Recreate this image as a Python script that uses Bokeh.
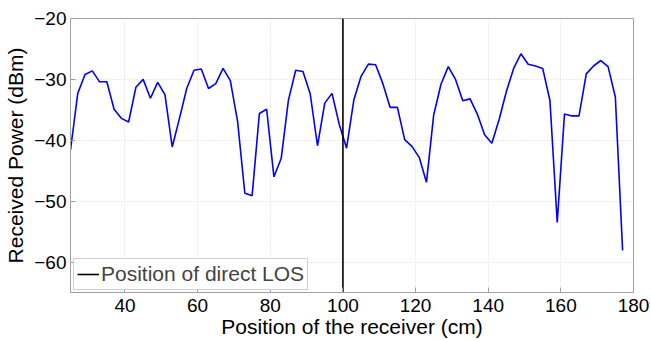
from bokeh.plotting import figure
from bokeh.models import Range1d, FixedTicker, Legend, LegendItem
from bokeh.embed import file_html
from bokeh.resources import INLINE

positions = list(range(25, 178, 2))
power = [-41.6, -32.3, -29.2, -28.6, -30.4, -30.4, -34.9, -36.4, -37.0, -31.3,
         -30.0, -33.1, -30.5, -32.5, -41.1, -36.4, -31.5, -28.5, -28.3, -31.5,
         -30.7, -28.2, -30.2, -36.9, -48.7, -49.1, -35.6, -34.9, -46.0, -43.0,
         -33.4, -28.5, -28.7, -32.4, -40.9, -33.9, -32.3, -37.4, -41.3, -33.4,
         -29.5, -27.5, -27.6, -30.7, -34.6, -34.6, -39.9, -41.0, -42.8, -46.9,
         -35.8, -30.8, -27.9, -30.0, -33.5, -33.2, -35.7, -39.1, -40.5, -36.6,
         -32.0, -28.2, -25.8, -27.5, -27.8, -28.2, -33.5, -53.5, -35.7, -36.0,
         -36.0, -29.1, -27.8, -26.9, -27.9, -32.9, -58.1]
los_position = 100
x_ticks = [40, 60, 80, 100, 120, 140, 160, 180]
y_ticks = [-60, -50, -40, -30, -20]
x_limits = (25, 180)
y_limits = (-65, -20)

FONT = "Liberation Sans"

p = figure(width=651, height=340, output_backend="svg", toolbar_location=None,
           x_range=Range1d(*x_limits), y_range=Range1d(*y_limits),
           min_border_left=70, min_border_right=18, min_border_top=18,
           min_border_bottom=48)

p.line(positions, power, line_color="#0000ff", line_width=1.6)
los = p.line([los_position, los_position], [y_limits[0], y_limits[1]],
             line_color="black", line_width=1.6)

p.xaxis.ticker = FixedTicker(ticks=x_ticks)
p.yaxis.ticker = FixedTicker(ticks=y_ticks)
p.xaxis.axis_label = "Position of the receiver (cm)"
p.yaxis.axis_label = "Received Power (dBm)"

for ax in (p.xaxis, p.yaxis):
    ax.axis_label_text_font = FONT
    ax.axis_label_text_font_style = "normal"
    ax.axis_label_text_font_size = "21px"
    ax.axis_label_text_color = "black"
    ax.major_label_text_font = FONT
    ax.major_label_text_font_size = "19px"
    ax.major_label_text_color = "black"
    ax.axis_line_color = "#a0a0a0"
    ax.major_tick_line_color = "#a0a0a0"
    ax.major_tick_in = 5
    ax.major_tick_out = 0
    ax.minor_tick_line_color = None

p.xaxis.major_label_standoff = 6
p.xaxis.axis_label_standoff = 0
p.yaxis.major_label_standoff = 4
p.yaxis.axis_label_standoff = 4

p.xgrid.ticker = FixedTicker(ticks=x_ticks)
p.ygrid.ticker = FixedTicker(ticks=y_ticks)
for g in (p.xgrid, p.ygrid):
    g.grid_line_color = "#d8d8d8"
    g.grid_line_dash = "1 2"
    g.grid_line_width = 1

p.outline_line_color = "#a0a0a0"
p.outline_line_width = 1

legend = Legend(items=[LegendItem(label="Position of direct LOS", renderers=[los])],
                location=(3, 2))
legend.label_text_font = FONT
legend.label_text_font_size = "21px"
legend.border_line_color = "#a0a0a0"
legend.padding = 3
legend.margin = 0
legend.glyph_width = 22
legend.label_standoff = 2
legend.spacing = 0
legend.label_height = 20
legend.glyph_height = 20
p.add_layout(legend, "center")

open("out.html", "w").write(file_html(p, INLINE))
